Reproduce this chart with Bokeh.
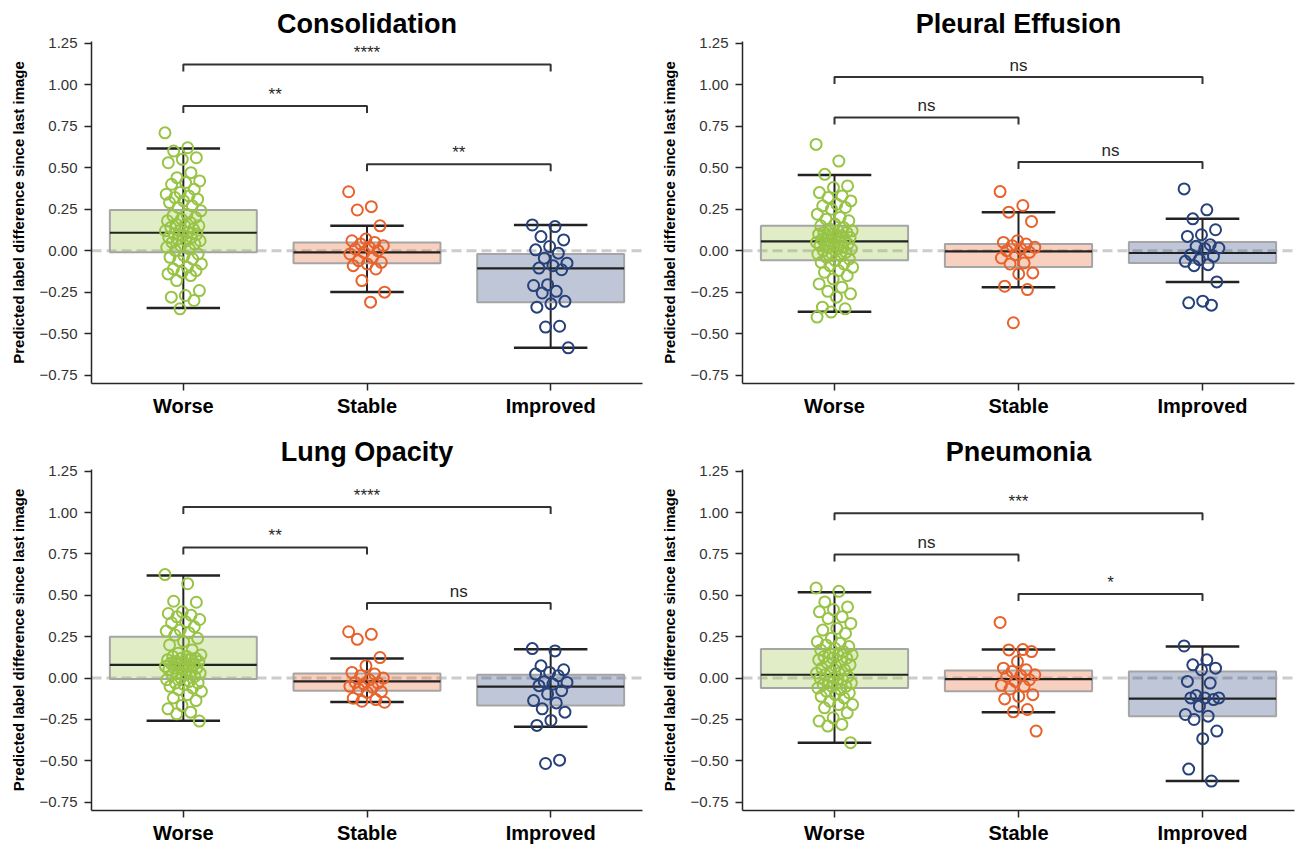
from bokeh.plotting import figure
from bokeh.layouts import column, row
from bokeh.models import FixedTicker, Span, Range1d, PrintfTickFormatter
from bokeh.core.properties import value
from bokeh.embed import file_html
from bokeh.resources import INLINE

FONT = "Liberation Sans"

# ---------------- data ----------------
categories = ["Worse", "Stable", "Improved"]
panel_titles = ["Consolidation", "Pleural Effusion", "Lung Opacity", "Pneumonia"]
bracket_pairs = [(0, 1), (0, 2), (1, 2)]
y_ticks = [-0.75, -0.5, -0.25, 0.0, 0.25, 0.5, 0.75, 1.0, 1.25]

# Consolidation
consolidation_worse = [0.71, 0.62, 0.60, 0.56, 0.55, 0.53, 0.47, 0.44, 0.42, 0.41, 0.40, 0.37, 0.35, 0.34,
                       0.33, 0.32, 0.31, 0.30, 0.29, 0.27, 0.26, 0.24, 0.22, 0.21, 0.20, 0.19, 0.18, 0.17,
                       0.16, 0.15, 0.15, 0.14, 0.13, 0.12, 0.12, 0.11, 0.10, 0.10, 0.09, 0.08, 0.08, 0.07,
                       0.06, 0.06, 0.05, 0.04, 0.03, 0.02, 0.01, 0.00, -0.02, -0.03, -0.04, -0.05, -0.06,
                       -0.08, -0.10, -0.11, -0.12, -0.13, -0.14, -0.15, -0.18, -0.24, -0.27, -0.28, -0.30, -0.35]
consolidation_stable = [0.355, 0.265, 0.245, 0.15, 0.07, 0.06, 0.05, 0.04, 0.03, 0.02, 0.01, 0.00, -0.01,
                        -0.02, -0.04, -0.06, -0.07, -0.08, -0.09, -0.11, -0.18, -0.25, -0.31]
consolidation_improved = [0.155, 0.145, 0.085, 0.065, 0.025, 0.005, -0.015, -0.045, -0.075, -0.09, -0.105,
                          -0.115, -0.205, -0.21, -0.245, -0.255, -0.305, -0.32, -0.34, -0.455, -0.46, -0.585]
consolidation_q1 = [-0.010, -0.076, -0.310]
consolidation_median = [0.108, -0.010, -0.106]
consolidation_q3 = [0.245, 0.050, -0.020]
consolidation_whisker_low = [-0.345, -0.249, -0.584]
consolidation_whisker_high = [0.616, 0.150, 0.155]
consolidation_bracket_y = [0.871, 1.121, 0.520]
consolidation_sig = ["**", "****", "**"]

# Pleural Effusion
pleural_worse = [0.64, 0.54, 0.46, 0.39, 0.38, 0.35, 0.33, 0.32, 0.30, 0.28, 0.27, 0.26, 0.25, 0.22, 0.20,
                 0.19, 0.18, 0.16, 0.15, 0.14, 0.13, 0.12, 0.12, 0.11, 0.11, 0.10, 0.10, 0.09, 0.09, 0.08,
                 0.08, 0.07, 0.06, 0.06, 0.05, 0.05, 0.04, 0.04, 0.03, 0.03, 0.02, 0.02, 0.01, 0.01, 0.00,
                 -0.01, -0.02, -0.02, -0.03, -0.04, -0.05, -0.06, -0.07, -0.08, -0.09, -0.10, -0.12, -0.13,
                 -0.15, -0.17, -0.20, -0.22, -0.245, -0.26, -0.28, -0.34, -0.35, -0.37, -0.40]
pleural_stable = [0.356, 0.272, 0.232, 0.176, 0.06, 0.05, 0.04, 0.03, 0.02, 0.01, 0.00, -0.01, -0.024,
                  -0.044, -0.074, -0.08, -0.134, -0.14, -0.214, -0.234, -0.434]
pleural_improved = [0.372, 0.246, 0.192, 0.126, 0.096, 0.086, 0.036, 0.026, 0.016, 0.012, -0.024, -0.034,
                    -0.054, -0.064, -0.084, -0.09, -0.188, -0.304, -0.314, -0.328]
pleural_q1 = [-0.058, -0.098, -0.074]
pleural_median = [0.056, -0.004, -0.014]
pleural_q3 = [0.150, 0.040, 0.052]
pleural_whisker_low = [-0.368, -0.220, -0.188]
pleural_whisker_high = [0.456, 0.232, 0.192]
pleural_bracket_y = [0.802, 1.046, 0.534]
pleural_sig = ["ns", "ns", "ns"]

# Lung Opacity
lung_worse = [0.625, 0.57, 0.464, 0.458, 0.40, 0.39, 0.38, 0.37, 0.354, 0.34, 0.334, 0.31, 0.29, 0.284,
              0.274, 0.26, 0.24, 0.22, 0.20, 0.17, 0.15, 0.14, 0.13, 0.13, 0.12, 0.12, 0.11, 0.11, 0.10,
              0.10, 0.09, 0.09, 0.08, 0.08, 0.07, 0.07, 0.06, 0.06, 0.05, 0.05, 0.04, 0.03, 0.03, 0.02,
              0.02, 0.01, 0.00, -0.01, -0.02, -0.03, -0.03, -0.04, -0.05, -0.06, -0.07, -0.08, -0.10,
              -0.12, -0.136, -0.166, -0.186, -0.206, -0.216, -0.26]
lung_stable = [0.28, 0.264, 0.234, 0.124, 0.074, 0.034, 0.024, 0.014, 0.00, -0.01, -0.026, -0.03, -0.036,
               -0.05, -0.056, -0.066, -0.082, -0.086, -0.122, -0.13, -0.14, -0.146]
lung_improved = [0.178, 0.164, 0.074, 0.05, 0.034, 0.024, 0.014, -0.022, -0.026, -0.036, -0.046, -0.076,
                 -0.096, -0.136, -0.15, -0.186, -0.206, -0.256, -0.286, -0.496, -0.516]
lung_q1 = [-0.006, -0.076, -0.166]
lung_median = [0.080, -0.020, -0.052]
lung_q3 = [0.250, 0.028, 0.020]
lung_whisker_low = [-0.258, -0.144, -0.294]
lung_whisker_high = [0.620, 0.118, 0.174]
lung_bracket_y = [0.789, 1.033, 0.454]
lung_sig = ["**", "****", "ns"]

# Pneumonia
pneumonia_worse = [0.544, 0.524, 0.46, 0.43, 0.414, 0.40, 0.37, 0.36, 0.33, 0.30, 0.29, 0.27, 0.24, 0.22,
                   0.21, 0.20, 0.19, 0.18, 0.17, 0.16, 0.15, 0.14, 0.14, 0.13, 0.12, 0.12, 0.11, 0.10,
                   0.09, 0.08, 0.07, 0.06, 0.05, 0.04, 0.03, 0.03, 0.02, 0.01, 0.00, 0.00, -0.01, -0.02,
                   -0.03, -0.03, -0.04, -0.05, -0.05, -0.06, -0.07, -0.08, -0.09, -0.10, -0.11, -0.12,
                   -0.14, -0.16, -0.16, -0.18, -0.21, -0.24, -0.26, -0.28, -0.29, -0.39]
pneumonia_stable = [0.336, 0.172, 0.17, 0.16, 0.10, 0.06, 0.05, 0.04, 0.02, 0.015, 0.01, -0.01, -0.02,
                    -0.044, -0.05, -0.066, -0.10, -0.11, -0.126, -0.19, -0.204, -0.32]
pneumonia_improved = [0.194, 0.11, 0.08, 0.06, 0.05, -0.02, -0.03, -0.106, -0.12, -0.12, -0.12, -0.13,
                      -0.17, -0.22, -0.23, -0.25, -0.32, -0.366, -0.55, -0.622]
pneumonia_q1 = [-0.060, -0.080, -0.230]
pneumonia_median = [0.020, -0.006, -0.124]
pneumonia_q3 = [0.176, 0.046, 0.040]
pneumonia_whisker_low = [-0.390, -0.206, -0.622]
pneumonia_whisker_high = [0.518, 0.172, 0.190]
pneumonia_bracket_y = [0.746, 0.996, 0.508]
pneumonia_sig = ["ns", "***", "*"]

# ---------------- style ----------------
COLORS = ["#98c446", "#e8622c", "#27417a"]
AX = "#262626"
BOX_W = 0.8
CAP_W = 0.4
LEG = 0.042


def jitter(k):
    return (((k * 0.6180339887) % 1.0) - 0.5) * 0.2


def make_panel(title, groups, q1, med, q3, wlo, whi, br_y, sig, width, height, mbl, mbr, mbt, mbb):
    p = figure(width=width, height=height, output_backend="svg", toolbar_location=None,
               x_range=Range1d(-0.5, 2.5), y_range=Range1d(-0.8, 1.26),
               min_border_left=mbl, min_border_right=mbr, min_border_top=mbt, min_border_bottom=mbb,
               title=title)
    p.title.text_font = FONT
    p.title.text_font_size = "27px"
    p.title.text_font_style = "bold"
    p.title.text_color = "black"
    p.title.align = "center"
    p.title.standoff = 5
    p.xgrid.visible = False
    p.ygrid.visible = False
    p.outline_line_color = None
    p.background_fill_color = "white"

    p.add_layout(Span(location=0, dimension="width", line_color="#cccccc", line_width=3,
                      line_dash="10 5", level="underlay"))

    for i in range(3):
        c = COLORS[i]
        # whisker stem
        p.segment(x0=[i], y0=[wlo[i]], x1=[i], y1=[whi[i]], line_color="#222222", line_width=2)
        # box
        p.quad(left=[i - BOX_W / 2], right=[i + BOX_W / 2], bottom=[q1[i]], top=[q3[i]],
               fill_color=c, fill_alpha=0.3, line_color="#a5a5a5", line_width=2)
        # median
        p.segment(x0=[i - BOX_W / 2], y0=[med[i]], x1=[i + BOX_W / 2], y1=[med[i]],
                  line_color="#222222", line_width=2.2)
        # caps
        p.segment(x0=[i - CAP_W / 2, i - CAP_W / 2], y0=[wlo[i], whi[i]],
                  x1=[i + CAP_W / 2, i + CAP_W / 2], y1=[wlo[i], whi[i]],
                  line_color="#222222", line_width=2.5)

    for i in range(3):
        vals = groups[i]
        xs = [i + jitter(k) for k in range(len(vals))]
        p.scatter(x=xs, y=vals, marker="circle", size=11, fill_color=None,
                  line_color=COLORS[i], line_width=2)

    for (a, b), yb, s in zip(bracket_pairs, br_y, sig):
        p.line(x=[a, a, b, b], y=[yb - LEG, yb, yb, yb - LEG], line_color="#333333", line_width=2)
        p.text(x=[(a + b) / 2], y=[yb + 0.07], text=[s], text_align="center",
               text_baseline="alphabetic", text_font=value(FONT), text_font_size="17px",
               text_color=AX)

    # axes
    p.xaxis.ticker = FixedTicker(ticks=[0, 1, 2])
    p.xaxis.major_label_overrides = {0: categories[0], 1: categories[1], 2: categories[2]}
    p.xaxis.major_label_text_font = FONT
    p.xaxis.major_label_text_font_size = "20px"
    p.xaxis.major_label_text_font_style = "bold"
    p.xaxis.major_label_text_color = "black"
    p.xaxis.major_label_standoff = 4

    p.yaxis.ticker = FixedTicker(ticks=y_ticks)
    p.yaxis.formatter = PrintfTickFormatter(format="%.2f")
    p.yaxis.major_label_overrides = {t: ("\u2212%.2f" % abs(t)) for t in y_ticks if t < 0}
    p.yaxis.major_label_text_font = FONT
    p.yaxis.major_label_text_font_size = "15px"
    p.yaxis.major_label_text_color = "#333333"
    p.yaxis.major_label_standoff = 7
    p.yaxis.axis_label = "Predicted label difference since last image"
    p.yaxis.axis_label_text_font = FONT
    p.yaxis.axis_label_text_font_size = "15px"
    p.yaxis.axis_label_text_font_style = "bold"
    p.yaxis.axis_label_text_color = "black"
    p.yaxis.axis_label_standoff = 10

    for ax in (p.xaxis, p.yaxis):
        ax.axis_line_color = AX
        ax.axis_line_width = 1.5
        ax.major_tick_line_color = AX
        ax.major_tick_line_width = 1.5
        ax.major_tick_out = 7
        ax.major_tick_in = 0
        ax.minor_tick_out = 0
        ax.minor_tick_in = 0
    return p


# widths/heights: frames at x 91..642 and 742..1294, y 41..383 and 469..811
p1 = make_panel(panel_titles[0], [consolidation_worse, consolidation_stable, consolidation_improved],
                consolidation_q1, consolidation_median, consolidation_q3,
                consolidation_whisker_low, consolidation_whisker_high,
                consolidation_bracket_y, consolidation_sig, 652, 427, 91, 10, 41, 44)
p2 = make_panel(panel_titles[1], [pleural_worse, pleural_stable, pleural_improved],
                pleural_q1, pleural_median, pleural_q3, pleural_whisker_low, pleural_whisker_high,
                pleural_bracket_y, pleural_sig, 644, 427, 90, 2, 41, 44)
p3 = make_panel(panel_titles[2], [lung_worse, lung_stable, lung_improved],
                lung_q1, lung_median, lung_q3, lung_whisker_low, lung_whisker_high,
                lung_bracket_y, lung_sig, 652, 419, 91, 10, 42, 35)
p4 = make_panel(panel_titles[3], [pneumonia_worse, pneumonia_stable, pneumonia_improved],
                pneumonia_q1, pneumonia_median, pneumonia_q3, pneumonia_whisker_low, pneumonia_whisker_high,
                pneumonia_bracket_y, pneumonia_sig, 644, 419, 90, 2, 42, 35)

layout = column(row(p1, p2), row(p3, p4))
open("out.html", "w").write(file_html(layout, INLINE))
